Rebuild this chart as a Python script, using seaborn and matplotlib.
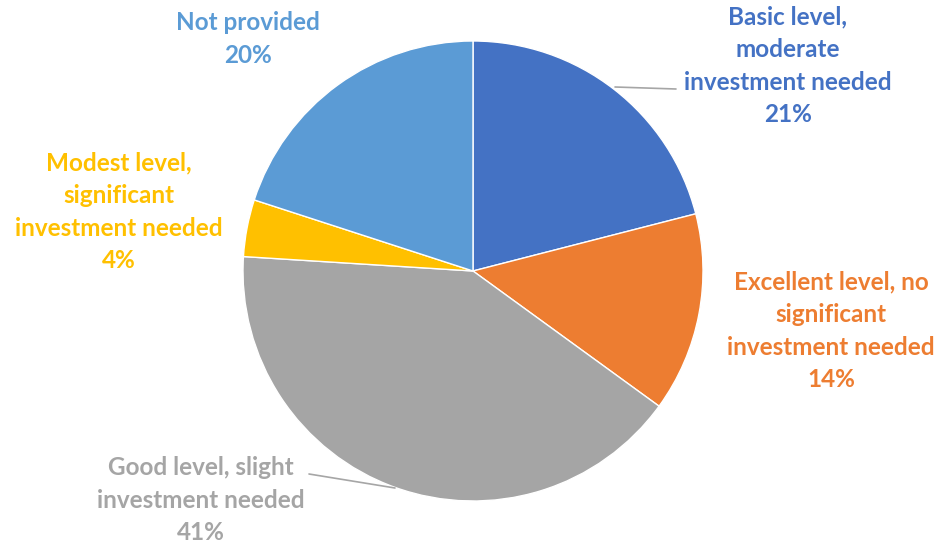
import matplotlib
matplotlib.use("Agg")
import matplotlib.pyplot as plt
import seaborn as sns

# --- Data ---
categories = [
    "Basic level,\nmoderate\ninvestment needed",
    "Excellent level, no\nsignificant\ninvestment needed",
    "Good level, slight\ninvestment needed",
    "Modest level,\nsignificant\ninvestment needed",
    "Not provided",
]
shares = [21, 14, 41, 4, 20]
colors = ["#4472C4", "#ED7D31", "#A5A5A5", "#FFC000", "#5B9BD5"]

# label centres in pixel space (x, y from top)
label_pos = [(788, 66), (831, 331), (201, 500), (119, 212), (248, 39)]

W, H = 941, 546

sns.set_theme(style="white")
plt.rcParams["font.family"] = ["Lato", "DejaVu Sans"]

fig = plt.figure(figsize=(W / 100, H / 100), dpi=100)
ax = fig.add_axes([0, 0, 1, 1])

cx, cy, r = 473, H - 271, 230
ax.pie(shares, colors=colors, startangle=90, counterclock=False,
       center=(cx, cy), radius=r, frame=True,
       wedgeprops={"edgecolor": "white", "linewidth": 1.0})

for cat, val, col, (lx, ly) in zip(categories, shares, colors, label_pos):
    ax.text(lx, H - ly, f"{cat}\n{val}%", color=col, ha="center", va="center",
            fontsize=17.5, fontweight="bold", linespacing=1.5)

# leader lines
ax.plot([615, 676], [H - 87, H - 89], color="#A6A6A6", lw=1.2)
ax.plot([395, 309], [H - 488, H - 474], color="#A6A6A6", lw=1.2)

ax.set_xlim(0, W)
ax.set_ylim(0, H)
ax.set_aspect("equal")
ax.axis("off")

fig.savefig("out.png", dpi=100)
